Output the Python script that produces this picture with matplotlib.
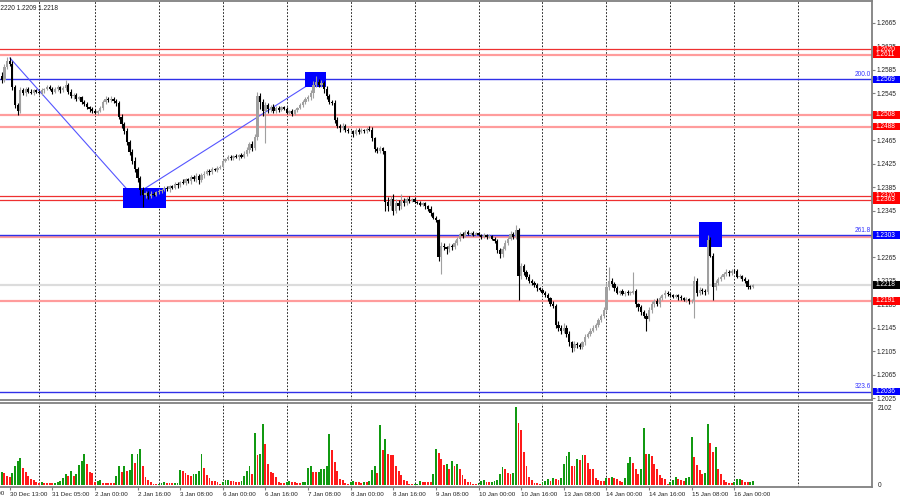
import matplotlib
matplotlib.use("Agg")
import matplotlib.pyplot as plt
import numpy as np
from matplotlib.patches import Rectangle
from matplotlib.transforms import blended_transform_factory

plt.rcParams['font.family'] = ['Liberation Sans', 'DejaVu Sans']

# hourly bars, 30 Dec 10:00 -> 16 Jan 07:00, closes in pips above 1.2000
first_open = 575
close = [
    568, 590, 600, 595, 555, 525, 515, 550, 545, 552, 548, 545, 550, 547,
    545, 550, 552, 556, 553, 548, 552, 555, 550, 554, 560, 548, 540, 542, 535, 538, 530, 527, 522, 518, 515,
    512, 515, 520, 530, 535, 533, 536, 532, 528, 505, 492, 480, 462, 445, 430, 415, 400, 380, 372, 375, 370, 374, 372, 376,
    378, 380, 383, 381, 386, 384, 390, 388, 394, 392, 398, 395, 402, 398, 404, 397, 405, 408, 412, 410, 416, 414, 418, 420,
    430, 433, 436, 434, 438, 436, 440, 437, 442, 448, 458, 452, 470, 540, 530, 515, 525, 518, 522, 515, 520, 517, 521, 518,
    512, 515, 510, 516, 520, 525, 530, 535, 538, 545, 560, 565, 560, 562, 552, 540, 530, 528, 500, 490, 485, 490, 483, 480,
    480, 476, 483, 479, 482, 480, 484, 483, 468, 450, 447, 452, 446, 360, 352, 364, 345, 358, 352, 362, 358, 365, 362, 365,
    360, 358, 355, 357, 352, 348, 340, 333, 328, 265, 285, 282, 279, 284, 282, 290, 296, 305, 302, 308, 305, 307, 304, 306,
    303, 300, 303, 300, 302, 297, 293, 278, 270, 280, 290, 297, 305, 300, 312, 234, 250, 240, 232, 225, 222, 218, 212, 210,
    205, 200, 195, 185, 182, 150, 145, 140, 145, 135, 120, 110, 118, 115, 112, 120, 130, 135, 140, 145, 150, 158, 165, 175,
    215, 225, 220, 212, 205, 207, 203, 205, 204, 205, 207, 185, 180, 172, 165, 160, 175, 185, 190, 185, 195, 200, 205, 202,
    200, 198, 200, 197, 195, 192, 194, 190, 190, 225, 205, 210, 207, 206, 295, 268, 215, 222, 228, 232, 236, 240, 238, 242,
    241, 232, 233, 228, 224, 215, 214, 218,
]
wick_up = [
    7, 5, 7, 7, 5, 4, 3, 5, 4, 3, 3, 4, 2, 3,
    3, 4, 2, 3, 4, 2, 3, 5, 3, 4, 8, 3, 4, 3, 4, 3, 2, 4, 3, 2, 3,
    3, 2, 4, 3, 5, 3, 4, 2, 3, 4, 5, 4, 6, 4, 5, 6, 5, 4, 5, 4, 3, 4, 3, 2,
    3, 2, 3, 4, 2, 3, 4, 3, 2, 4, 3, 2, 4, 3, 5, 3, 4, 5, 3, 4, 3, 2, 3, 2,
    3, 2, 3, 4, 2, 3, 2, 3, 4, 5, 4, 6, 5, 8, 5, 6, 5, 4, 3, 5, 4, 3, 2, 3,
    3, 2, 4, 3, 2, 3, 4, 3, 4, 5, 6, 9, 4, 5, 4, 5, 4, 3, 5, 4, 3, 4, 2, 3,
    3, 2, 3, 2, 3, 2, 3, 5, 4, 3, 4, 3, 2, 1, 8, 6, 10, 6, 5, 12, 4, 3, 4, 2,
    3, 2, 4, 3, 2, 3, 4, 3, 2, 2, 6, 4, 3, 5, 4, 5, 3, 4, 3, 4, 3, 2, 3, 2,
    3, 2, 3, 2, 3, 2, 3, 4, 3, 5, 4, 3, 5, 4, 8, 3, 6, 4, 3, 4, 3, 2, 3, 2,
    3, 2, 4, 3, 5, 4, 6, 4, 8, 5, 4, 3, 4, 3, 4, 3, 4, 3, 4, 5, 3, 4, 3, 5,
    8, 24, 4, 3, 4, 3, 4, 3, 4, 3, 33, 4, 3, 4, 3, 5, 6, 5, 4, 5, 4, 3, 4, 3,
    3, 2, 3, 2, 3, 2, 3, 2, 4, 8, 5, 4, 3, 4, 8, 5, 4, 5, 4, 3, 4, 5, 4, 3,
    3, 4, 3, 2, 3, 4, 3, 2,
]
wick_dn = [
    6, 3, 4, 3, 5, 5, 7, 4, 3, 4, 3, 2, 3, 2,
    2, 3, 4, 2, 3, 4, 2, 3, 4, 2, 3, 5, 3, 4, 3, 2, 4, 3, 4, 5, 3,
    3, 4, 2, 3, 4, 2, 3, 4, 5, 4, 6, 5, 6, 5, 6, 5, 7, 8, 21, 6, 5, 4, 3, 3,
    2, 3, 2, 3, 4, 2, 3, 4, 3, 2, 4, 3, 5, 3, 4, 6, 3, 4, 3, 5, 3, 2, 3, 2,
    2, 3, 2, 3, 3, 2, 4, 3, 2, 4, 5, 6, 4, 5, 12, 8, 55, 6, 5, 4, 3, 4, 3, 2,
    2, 3, 4, 2, 3, 2, 3, 4, 3, 4, 8, 5, 4, 5, 6, 5, 4, 3, 5, 4, 6, 3, 4, 2,
    2, 5, 2, 3, 2, 3, 2, 3, 4, 5, 4, 3, 4, 15, 8, 6, 7, 5, 6, 4, 5, 3, 4, 3,
    3, 2, 3, 2, 4, 3, 4, 3, 3, 7, 29, 5, 8, 4, 5, 3, 4, 3, 4, 3, 2, 3, 2, 3,
    2, 3, 2, 3, 2, 3, 4, 5, 6, 4, 3, 4, 3, 4, 4, 42, 6, 5, 4, 3, 4, 3, 4, 3,
    3, 2, 4, 3, 4, 6, 5, 6, 4, 5, 6, 7, 4, 5, 4, 3, 4, 3, 4, 3, 4, 3, 4, 3,
    4, 5, 6, 4, 3, 4, 3, 4, 3, 4, 3, 5, 6, 5, 4, 20, 4, 5, 4, 3, 4, 3, 4, 3,
    3, 2, 3, 4, 3, 2, 3, 4, 3, 28, 6, 5, 4, 5, 4, 3, 23, 5, 4, 3, 4, 3, 4, 3,
    3, 2, 3, 4, 3, 4, 3, 2,
]
volume = [
    340, 330, 230, 220, 320, 520, 650, 720, 470, 340, 245, 160, 135, 70,
    45, 70, 55, 50, 50, 45, 55, 75, 115, 200, 300, 245, 380, 245, 290, 540, 650, 830, 560, 360, 315,
    70, 110, 135, 65, 65, 65, 65, 60, 245, 510, 360, 520, 385, 405, 830, 600, 830, 970, 500, 210, 140, 70, 20, 20,
    30, 50, 70, 65, 60, 55, 60, 65, 405, 380, 315, 270, 245, 290, 295, 380, 830, 470, 270, 200, 110, 110, 70, 30,
    70, 135, 140, 100, 95, 80, 75, 95, 245, 385, 520, 300, 1395, 810, 830, 1640, 1100, 560, 340, 330, 210, 80, 50, 45,
    70, 110, 80, 75, 45, 45, 70, 75, 470, 500, 360, 350, 355, 430, 440, 500, 1370, 940, 630, 385, 155, 135, 45, 20,
    70, 110, 80, 75, 45, 70, 70, 110, 405, 500, 315, 1620, 940, 1240, 830, 810, 810, 510, 385, 270, 140, 110, 30, 20,
    30, 40, 110, 70, 70, 70, 70, 300, 970, 870, 700, 550, 560, 430, 650, 520, 560, 430, 270, 155, 70, 70, 30, 20,
    45, 110, 135, 70, 70, 75, 110, 135, 300, 480, 430, 335, 300, 335, 2102, 1660, 1480, 900, 520, 225, 135, 65, 45, 20,
    70, 110, 160, 110, 200, 160, 135, 180, 560, 790, 900, 520, 500, 700, 680, 810, 810, 600, 430, 420, 200, 135, 110, 110,
    200, 195, 225, 180, 160, 110, 90, 180, 580, 750, 580, 440, 300, 430, 1530, 830, 840, 780, 560, 430, 270, 180, 160, 20,
    70, 135, 210, 150, 135, 110, 180, 225, 1300, 750, 550, 400, 300, 335, 1650, 1120, 900, 1020, 440, 290, 135, 90, 65, 45,
    70, 160, 165, 135, 90, 70, 90, 110,
]

day_start = [14, 35, 59, 83, 107, 131, 155, 179, 203, 227, 251, 275, 299]
lab_pos = [3, 19, 35, 51, 67, 83, 99, 115, 131, 147, 163, 179, 195, 211, 227, 243, 259, 275]
lab_txt = ["30 Dec 13:00", "31 Dec 05:00", "2 Jan 00:00", "2 Jan 16:00", "3 Jan 08:00",
           "6 Jan 00:00", "6 Jan 16:00", "7 Jan 08:00", "8 Jan 00:00", "8 Jan 16:00",
           "9 Jan 08:00", "10 Jan 00:00", "10 Jan 16:00", "13 Jan 08:00", "14 Jan 00:00",
           "14 Jan 16:00", "15 Jan 08:00", "16 Jan 00:00"]
price_ticks = [1.2025, 1.2065, 1.2105, 1.2145, 1.2185, 1.2225, 1.2265, 1.2305, 1.2345,
               1.2385, 1.2425, 1.2465, 1.2505, 1.2545, 1.2585, 1.2625, 1.2665]

red_levels = [1.2620, 1.2370, 1.2363]
pink_levels = [1.2611, 1.2508, 1.2488, 1.2299, 1.2191]
fib_levels = [1.2569, 1.2303, 1.2036]
fib_names = ["200.0", "261.8", "323.6"]
bid = 1.2218
box_prices = [1.2611, 1.2620, 1.2508, 1.2488, 1.2370, 1.2363, 1.2191, 1.2569, 1.2303, 1.2036, 1.2218]
box_colors = ["red"] * 7 + ["blue"] * 3 + ["black"]

fib_x = [3.1, 49.3, 118]
fib_y = [1.26053, 1.23698, 1.25677]
zones = [(45.5, 61.7, 1.23493, 1.23834), (113.9, 121.7, 1.25558, 1.25814), (261.8, 270.4, 1.22828, 1.23254)]

c = 1.2 + np.array(close) / 1e4
o = np.r_[1.2 + first_open / 1e4, c[:-1]]
hi = np.maximum(o, c) + np.array(wick_up) / 1e4
lo = np.minimum(o, c) - np.array(wick_dn) / 1e4
idx = np.arange(len(c))

W, H = 900, 500
fig = plt.figure(figsize=(9, 5), dpi=100)
ax = fig.add_axes([0, 1 - 400 / H, 872 / W, 399 / H])
axv = fig.add_axes([0, 1 - 487 / H, 872 / W, 84 / H], sharex=ax)

ax.set_xlim(-0.64, 326.7)
ax.set_ylim(1.202165, 1.270254)
axv.set_ylim(-54, 2210)

for a in (ax, axv):
    for d in day_start:
        a.axvline(d, color="black", lw=0.6, ls=(0, (2, 2)), zorder=0.5)
    a.spines["left"].set_visible(False)
    for s in ("top", "right", "bottom"):
        a.spines[s].set_color("#808080")
        a.spines[s].set_linewidth(1.3)

# levels
for lv in pink_levels:
    ax.axhline(lv, color="#ff9c9c", lw=1.6, zorder=1)
for lv in red_levels:
    ax.axhline(lv, color="#ee3030", lw=0.9, zorder=1)
ax.axhline(bid, color="#dcdcdc", lw=1.6, zorder=1)
for lv in fib_levels:
    ax.axhline(lv, color="#3030e8", lw=1.0, zorder=1.2)

ax.plot(fib_x, fib_y, color="#5555ff", lw=0.8, zorder=1.5)
for x0, x1, y0, y1 in zones:
    ax.add_patch(Rectangle((x0, y0), x1 - x0, y1 - y0, fc="#0000ff", ec="none", zorder=2))

# candles
col = np.where(c >= o, "#a0a0a0", "#000000")
ax.vlines(idx, lo, hi, colors=col, lw=0.8, zorder=3)
ax.bar(idx, np.maximum(np.abs(c - o), 0.00014), bottom=np.minimum(o, c),
       width=0.85, color=col, lw=0, zorder=4)

# right price scale
ax.yaxis.tick_right()
ax.set_yticks(price_ticks)
ax.set_yticklabels([f"{t:.4f}" for t in price_ticks])
ax.tick_params(axis="y", labelsize=4.7, length=2, pad=1, color="#808080", labelcolor="#222222")
ax.tick_params(axis="x", bottom=False, labelbottom=False)

tr = blended_transform_factory(fig.transFigure, ax.transData)
for lv, name in zip(fib_levels, fib_names):
    ax.text(871 / W, lv + 0.0002, name, transform=tr, ha="right", va="bottom",
            color="#3333ff", fontsize=4.7, zorder=6)
for p, bc in zip(box_prices, box_colors):
    ax.add_patch(Rectangle((873 / W, p - 0.00064), 27 / W, 0.00128, transform=tr,
                           fc=bc, ec="none", clip_on=False, zorder=10))
    ax.text(876 / W, p, f"{p:.4f}", transform=tr, color="white", fontsize=4.7,
            ha="left", va="center", clip_on=False, zorder=11)

fig.text(-5 / W, 1 - 8 / H, "1.2220 1.2209 1.2218", fontsize=4.7, color="#222222",
         ha="left", va="center")

# volumes
vcol = ["#119911" if i == 0 or volume[i] > volume[i - 1] else "#ff1a1a" for i in range(len(volume))]
axv.bar(idx, volume, width=0.7, color=vcol, lw=0, zorder=2)
axv.yaxis.tick_right()
axv.set_yticks([0, 2102])
axv.set_yticklabels(["0", "2102"])
axv.tick_params(axis="y", labelsize=4.7, length=0, pad=4, labelcolor="#222222")
axv.set_xticks(lab_pos)
axv.set_xticklabels(lab_txt)
for lbl in axv.get_xticklabels():
    lbl.set_ha("left")
axv.tick_params(axis="x", labelsize=4.5, length=2, pad=1.5, color="#808080", labelcolor="#222222")
axv.text(-13, -0.045, "29 Dec 21:00", transform=blended_transform_factory(axv.transData, axv.transAxes),
         fontsize=4.5, color="#222222", ha="left", va="top", clip_on=False)

fig.savefig("out.png", dpi=100, facecolor="white")
